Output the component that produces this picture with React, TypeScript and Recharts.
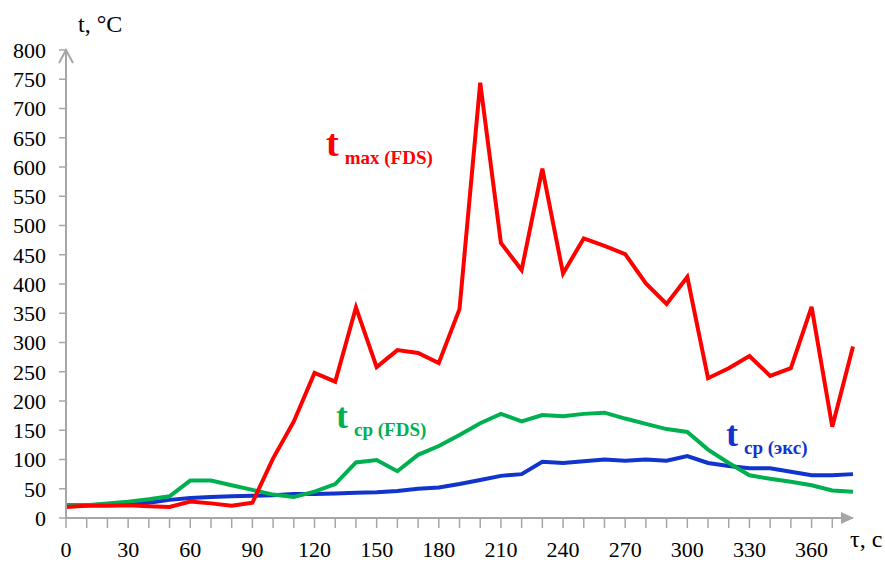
import React from "react";
import { LineChart, Line, XAxis, YAxis } from "recharts";

const times = [
  0, 10, 20, 30, 40, 50, 60, 70, 80, 90, 100, 110, 120, 130, 140, 150, 160, 170, 180, 190,
  200, 210, 220, 230, 240, 250, 260, 270, 280, 290, 300, 310, 320, 330, 340, 350, 360, 370, 380,
];

const tMaxFds = [
  19, 21, 21, 22, 20, 19, 28, 25, 21, 26, 102, 165, 248, 233, 360, 258, 287, 282, 265, 357,
  744, 470, 424, 597, 418, 478, 465, 451, 401, 366, 412, 239, 256, 277, 243, 256, 361, 156, 293,
];

const tCpFds = [
  22, 22, 25, 28, 32, 37, 64, 64, 56, 48, 40, 36, 45, 58, 95, 99, 80, 108, 123, 142,
  162, 178, 165, 176, 174, 178, 180, 170, 161, 152, 147, 117, 94, 73, 67, 62, 56, 47, 45,
];

const tCpExp = [
  22, 22, 23, 25, 26, 31, 34, 36, 37, 38, 39, 41, 41, 42, 43, 44, 46, 50, 52, 58,
  65, 72, 75, 96, 94, 97, 100, 98, 100, 98, 106, 94, 89, 85, 85, 79, 73, 73, 75,
];

const xTicks = times.slice(0, -1);
const yTicks = [0, 50, 100, 150, 200, 250, 300, 350, 400, 450, 500, 550, 600, 650, 700, 750, 800];

const data = times.map((t, i) => ({
  t,
  tmax: tMaxFds[i],
  cpFds: tCpFds[i],
  cpExp: tCpExp[i],
}));

const font = "Liberation Serif, DejaVu Serif, serif";
const axisGray = "#A6A6A6";

const Label = ({ left, top, color, sub, big }: { left: number; top: number; color: string; sub: string; big: number }) => (
  <div
    style={{
      position: "absolute",
      left,
      top,
      color,
      fontFamily: font,
      fontWeight: "bold",
      whiteSpace: "nowrap",
      lineHeight: 1,
    }}
  >
    <span style={{ fontSize: big }}>t</span>
    <span style={{ fontSize: 19, marginLeft: 6, position: "relative", top: 8 }}>{sub}</span>
  </div>
);

export default function App() {
  return (
    <div style={{ position: "absolute", left: 0, top: 0, width: 885, height: 562, background: "#fff" }}>
      <svg width={0} height={0} style={{ position: "absolute" }}>
        <defs>
          <marker id="arrowX" markerUnits="userSpaceOnUse" markerWidth={14} markerHeight={14} refX={12} refY={7} orient="0">
            <path d="M0,1 L13,7 L0,13 z" fill={axisGray} />
          </marker>
          <marker id="arrowY" markerUnits="userSpaceOnUse" markerWidth={16} markerHeight={18} refX={14} refY={8} orient="-90">
            <path d="M1,1 L14,8 L1,15" fill="none" stroke={axisGray} strokeWidth={2} />
          </marker>
        </defs>
      </svg>
      <LineChart width={885} height={562} data={data} margin={{ top: 50, right: 32, left: 0, bottom: 0 }}>
        <XAxis
          dataKey="t"
          type="number"
          domain={[0, 380]}
          ticks={xTicks}
          interval={0}
          tickFormatter={(v: number) => (v % 30 === 0 ? String(v) : "")}
          tickSize={10}
          tickMargin={13}
          height={44}
          axisLine={{ stroke: axisGray, strokeWidth: 2, markerEnd: "url(#arrowX)" }}
          tickLine={{ stroke: axisGray, strokeWidth: 1.5 }}
          tick={{ fill: "#000", fontSize: 22, fontFamily: font }}
        />
        <YAxis
          type="number"
          domain={[0, 800]}
          ticks={yTicks}
          interval={0}
          width={66}
          tickSize={7}
          tickMargin={13}
          axisLine={{ stroke: axisGray, strokeWidth: 2, markerStart: "url(#arrowY)" }}
          tickLine={{ stroke: axisGray, strokeWidth: 1.5 }}
          tick={{ fill: "#000", fontSize: 22, fontFamily: font }}
        />
        <Line type="linear" dataKey="cpExp" stroke="#1034CC" strokeWidth={4} dot={false} isAnimationActive={false} />
        <Line type="linear" dataKey="cpFds" stroke="#00B050" strokeWidth={4} dot={false} isAnimationActive={false} />
        <Line type="linear" dataKey="tmax" stroke="#FF0000" strokeWidth={4} dot={false} isAnimationActive={false} />
      </LineChart>

      <div style={{ position: "absolute", left: 78, top: 11, fontFamily: font, fontSize: 24, color: "#000" }}>t, °C</div>
      <div style={{ position: "absolute", left: 850, top: 526, fontFamily: font, fontSize: 24, color: "#000", whiteSpace: "nowrap" }}>τ, c</div>

      <Label left={326} top={124} color="#FF0000" sub="max (FDS)" big={38} />
      <Label left={336} top={398} color="#00B050" sub="cp (FDS)" big={36} />
      <Label left={726} top={416} color="#1034CC" sub="cp (экс)" big={36} />
    </div>
  );
}
